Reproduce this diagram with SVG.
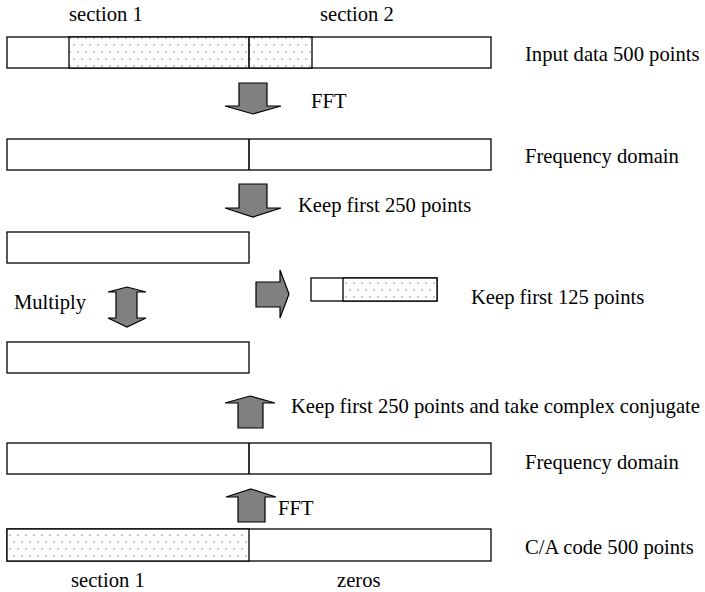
<svg xmlns="http://www.w3.org/2000/svg" width="705" height="592" viewBox="0 0 705 592">
<style>
.bar{fill:#fff;stroke:#000;stroke-width:1.3}
.dot{fill:url(#dots);stroke:#000;stroke-width:1.3}
.div{stroke:#000;stroke-width:1.6}
.arr{fill:#808080;stroke:#000;stroke-width:1.2;stroke-linejoin:miter}
.t{font-family:'Liberation Serif','Times New Roman',Times,serif;font-size:20.6px;fill:#000}
</style>
<defs>
<pattern id="dots" x="0" y="0" width="8" height="14" patternUnits="userSpaceOnUse">
<rect width="8" height="14" fill="#fff"/>
<circle cx="2" cy="3" r="0.65" fill="#666"/>
<circle cx="6" cy="10" r="0.65" fill="#666"/>
</pattern>
</defs>
<rect width="705" height="592" fill="#fff"/>

<g id="input">
<rect class="bar" x="7" y="37" width="484" height="31"/>
<rect class="dot" x="69" y="37" width="243" height="31"/>
<line class="div" x1="249" y1="37" x2="249" y2="68"/>
<text class="t" font-family="Liberation Serif, serif" x="69" y="21">section 1</text>
<text class="t" font-family="Liberation Serif, serif" x="320" y="21">section 2</text>
<text class="t" font-family="Liberation Serif, serif" x="525" y="61">Input data 500 points</text>
</g>

<g id="freq1">
<rect class="bar" x="7" y="139" width="484" height="31"/>
<line class="div" x1="249" y1="139" x2="249" y2="170"/>
<text class="t" font-family="Liberation Serif, serif" x="525" y="163">Frequency domain</text>
</g>

<g id="half1">
<rect class="bar" x="7" y="232" width="242" height="31"/>
</g>

<g id="half2">
<rect class="bar" x="7" y="342" width="242" height="31"/>
</g>

<g id="result">
<rect class="bar" x="311" y="278" width="126" height="23"/>
<rect class="dot" x="343" y="278" width="94" height="23"/>
<text class="t" font-family="Liberation Serif, serif" x="471" y="304">Keep first 125 points</text>
</g>

<g id="freq2">
<rect class="bar" x="7" y="443" width="484" height="31"/>
<line class="div" x1="249" y1="443" x2="249" y2="474"/>
<text class="t" font-family="Liberation Serif, serif" x="525" y="469">Frequency domain</text>
</g>

<g id="ca">
<rect class="bar" x="7" y="529" width="484" height="32"/>
<rect class="dot" x="7" y="529" width="242" height="32"/>
<text class="t" font-family="Liberation Serif, serif" x="71" y="587">section 1</text>
<text class="t" font-family="Liberation Serif, serif" x="337" y="587">zeros</text>
<text class="t" font-family="Liberation Serif, serif" x="525" y="554">C/A code 500 points</text>
</g>

<g id="connectors">
<polygon class="arr" points="239,83 267,83 267,106 281,106 253,114 225,106 239,106"/>
<text class="t" font-family="Liberation Serif, serif" x="311" y="108">FFT</text>
<polygon class="arr" points="239,184 267,184 267,208 281,208 253,217 225,208 239,208"/>
<text class="t" font-family="Liberation Serif, serif" x="298" y="212">Keep first 250 points</text>
<polygon class="arr" points="256,282 280,282 280,270 289,294 280,318 280,307 256,307"/>
<polygon class="arr" points="127,287 146,292 137,292 137,318 146,318 127,327 108,318 116,318 116,292 108,292"/>
<text class="t" font-family="Liberation Serif, serif" x="14" y="309">Multiply</text>
<polygon class="arr" points="250,396 275,403 263,403 263,428 238,428 238,403 225,403"/>
<text class="t" font-family="Liberation Serif, serif" x="291" y="413">Keep first 250 points and take complex conjugate</text>
<polygon class="arr" points="251,489 276,497 265,497 265,522 238,522 238,497 226,497"/>
<text class="t" font-family="Liberation Serif, serif" x="278" y="515">FFT</text>
</g>
</svg>
